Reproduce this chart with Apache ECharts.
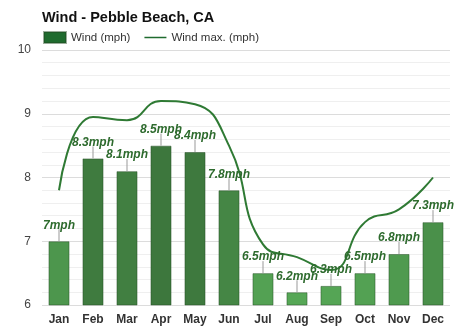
<!DOCTYPE html>
<html>
<head>
<meta charset="utf-8">
<script src="https://cdn.jsdelivr.net/npm/echarts@6/dist/echarts.min.js"></script>
<style>
  html, body { margin: 0; padding: 0; background: #fff; }
  #chart { width: 474px; height: 331px; }
</style>
</head>
<body>
<div id="chart"></div>
<script>
// Monthly wind data for Pebble Beach, CA
const months = ['Jan', 'Feb', 'Mar', 'Apr', 'May', 'Jun', 'Jul', 'Aug', 'Sep', 'Oct', 'Nov', 'Dec'];
const windAvg = [7.0, 8.3, 8.1, 8.5, 8.4, 7.8, 6.5, 6.2, 6.3, 6.5, 6.8, 7.3];
const windMax = [7.8, 8.95, 8.9, 9.2, 9.15, 8.5, 6.95, 6.75, 6.55, 7.3, 7.5, 8.0];
const windLabels = ['7mph', '8.3mph', '8.1mph', '8.5mph', '8.4mph', '7.8mph', '6.5mph', '6.2mph', '6.3mph', '6.5mph', '6.8mph', '7.3mph'];
const yTicks = [6, 7, 8, 9, 10];

const chart = echarts.init(document.getElementById('chart'), null, { renderer: 'canvas' });

const option = {
  animation: false,
  backgroundColor: '#fff',
  title: {
    text: 'Wind - Pebble Beach, CA',
    left: 37, top: 5,
    textStyle: { fontFamily: 'Liberation Sans, Arial, sans-serif', fontSize: 14.5, fontWeight: 'bold', color: '#111' }
  },
  legend: {
    left: 38, top: 26,
    itemWidth: 22, itemHeight: 11, itemGap: 14,
    textStyle: { fontFamily: 'Liberation Sans, Arial, sans-serif', fontSize: 11.5, color: '#333' },
    data: [
      { name: 'Wind (mph)', icon: 'rect', itemStyle: { color: '#1f6b2e' } },
      { name: 'Wind max. (mph)', icon: 'path://M0,5 L22,5 L22,6.5 L0,6.5 Z', itemStyle: { color: '#1f6b2e' } }
    ]
  },
  grid: { left: 42, right: 24, top: 50, bottom: 26 },
  xAxis: {
    type: 'category',
    data: months,
    axisLine: { show: false },
    axisTick: { show: false },
    axisLabel: { fontFamily: 'Liberation Sans, Arial, sans-serif', fontSize: 12, fontWeight: 'bold', color: '#333', margin: 9 }
  },
  yAxis: {
    type: 'value',
    min: yTicks[0], max: yTicks[yTicks.length - 1], interval: 1,
    axisLine: { show: false },
    axisTick: { show: false },
    axisLabel: { fontFamily: 'Liberation Sans, Arial, sans-serif', fontSize: 12, color: '#444', margin: 11 },
    splitLine: { lineStyle: { color: '#dcdcdc', width: 1 } },
    minorTick: { show: false, splitNumber: 5 },
    minorSplitLine: { show: true, lineStyle: { color: '#efefef', width: 1 } }
  },
  visualMap: {
    show: false,
    seriesIndex: 0,
    dimension: 1,
    min: 6, max: 8.6,
    inRange: { color: ['#58ab58', '#3c753c'] }
  },
  series: [
    {
      name: 'Wind (mph)',
      type: 'bar',
      data: windAvg,
      barWidth: '62%',
      itemStyle: { borderColor: 'rgba(30,70,30,0.45)', borderWidth: 1 },
      z: 2
    },
    {
      // leader line and value label above each bar
      name: 'labels',
      type: 'custom',
      data: windAvg.map((v, i) => [i, v]),
      z: 4,
      renderItem: function (params, api) {
        const p = api.coord([api.value(0), api.value(1)]);
        return {
          type: 'group',
          children: [
            {
              type: 'line',
              shape: { x1: p[0], y1: p[1], x2: p[0], y2: p[1] - 12 },
              style: { stroke: '#999', lineWidth: 1 }
            },
            {
              type: 'text',
              style: {
                text: windLabels[params.dataIndex],
                x: p[0], y: p[1] - 16,
                align: 'center', verticalAlign: 'middle',
                fill: '#2e6b2e',
                font: 'italic bold 12px Liberation Sans, Arial, sans-serif'
              }
            }
          ]
        };
      }
    },
    {
      name: 'Wind max. (mph)',
      type: 'line',
      data: windMax,
      smooth: 0.5,
      symbol: 'none',
      lineStyle: { color: '#2f7a34', width: 2 },
      itemStyle: { color: '#2f7a34' },
      z: 3
    }
  ]
};

chart.setOption(option);
</script>
</body>
</html>
